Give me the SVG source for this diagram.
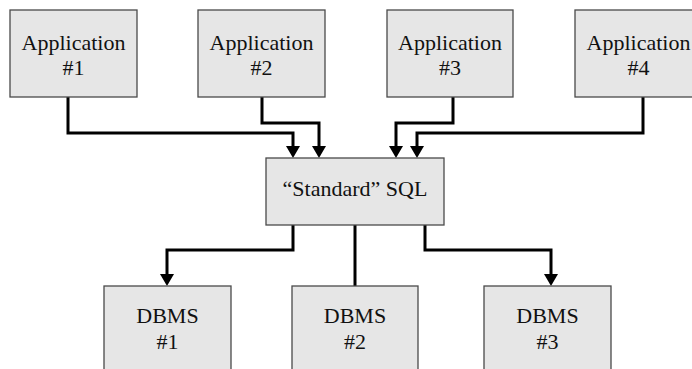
<svg xmlns="http://www.w3.org/2000/svg" width="692" height="369" viewBox="0 0 692 369">
<style>
.box{fill:#e6e6e6;stroke:#4a4a4a;stroke-width:1.3}
.t{font-family:"Liberation Serif","Times New Roman",serif;font-size:22px;fill:#111;text-anchor:middle}
.c{fill:none;stroke:#000;stroke-width:3}
</style>
<defs>
<marker id="ah" viewBox="0 0 12 14" refX="4" refY="7" markerWidth="12" markerHeight="14" markerUnits="userSpaceOnUse" orient="auto">
<path d="M0,0 L12,7 L0,14 z" fill="#000"/>
</marker>
</defs>
<rect width="692" height="369" fill="#fff"/>
<g id="connectors">
<path class="c" d="M68,97 V133 H293 V150" marker-end="url(#ah)"/>
<path class="c" d="M262,97 V123 H319 V150" marker-end="url(#ah)"/>
<path class="c" d="M453,97 V123 H396 V150" marker-end="url(#ah)"/>
<path class="c" d="M643,97 V133 H417 V150" marker-end="url(#ah)"/>
<path class="c" d="M293,225 V250 H167 V278" marker-end="url(#ah)"/>
<path class="c" d="M355,225 V286"/>
<path class="c" d="M425,225 V250 H551 V278" marker-end="url(#ah)"/>
</g>
<g id="app1"><rect class="box" x="10" y="10" width="127" height="87"/><text class="t" x="73.5" y="50">Application</text><text class="t" x="73.5" y="75">#1</text></g>
<g id="app2"><rect class="box" x="198" y="10" width="127" height="87"/><text class="t" x="261.5" y="50">Application</text><text class="t" x="261.5" y="75">#2</text></g>
<g id="app3"><rect class="box" x="387" y="10" width="126" height="87"/><text class="t" x="450" y="50">Application</text><text class="t" x="450" y="75">#3</text></g>
<g id="app4"><rect class="box" x="575" y="10" width="127" height="87"/><text class="t" x="638.5" y="50">Application</text><text class="t" x="638.5" y="75">#4</text></g>
<g id="sql"><rect class="box" x="266" y="158" width="178" height="67"/><text class="t" x="355" y="196">“Standard” SQL</text></g>
<g id="dbms1"><rect class="box" x="104" y="286" width="127" height="87"/><text class="t" x="167.5" y="323">DBMS</text><text class="t" x="167.5" y="349">#1</text></g>
<g id="dbms2"><rect class="box" x="292" y="286" width="126" height="87"/><text class="t" x="355" y="323">DBMS</text><text class="t" x="355" y="349">#2</text></g>
<g id="dbms3"><rect class="box" x="484" y="286" width="127" height="87"/><text class="t" x="547.5" y="323">DBMS</text><text class="t" x="547.5" y="349">#3</text></g>
</svg>
